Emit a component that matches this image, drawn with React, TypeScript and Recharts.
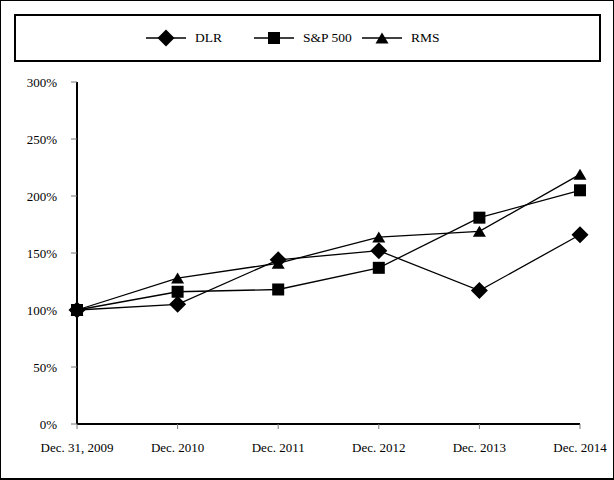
import { LineChart, Line, XAxis, YAxis } from 'recharts'

const years = ['Dec. 31, 2009', 'Dec. 2010', 'Dec. 2011', 'Dec. 2012', 'Dec. 2013', 'Dec. 2014']
const dlr = [100, 105, 144, 152, 117, 166]
const sp500 = [100, 116, 118, 137, 181, 205]
const rms = [100, 128, 141, 164, 169, 219]
const yTicks = [0, 50, 100, 150, 200, 250, 300]

const chartData = years.map((year, i) => ({ year, dlr: dlr[i], sp500: sp500[i], rms: rms[i] }))

const FONT = '"Liberation Serif", "Times New Roman", serif'

function DiamondDot(props: any) {
    const { cx, cy, index } = props
    if (cx == null || cy == null) return null
    const r = 8.5
    return <path key={index} d={`M${cx},${cy - r}L${cx + r},${cy}L${cx},${cy + r}L${cx - r},${cy}Z`} fill="#000" />
}

function SquareDot(props: any) {
    const { cx, cy, index } = props
    if (cx == null || cy == null) return null
    return <rect key={index} x={cx - 6} y={cy - 6} width={12} height={12} fill="#000" />
}

function TriangleDot(props: any) {
    const { cx, cy, index } = props
    if (cx == null || cy == null) return null
    return <path key={index} d={`M${cx},${cy - 5.5}L${cx + 6.5},${cy + 5.5}L${cx - 6.5},${cy + 5.5}Z`} fill="#000" />
}

function LegendIcon({ shape }: { shape: 'diamond' | 'square' | 'triangle' }) {
    return (
        <svg width={40} height={20} style={{ display: 'block' }}>
            <line x1={0} y1={10} x2={40} y2={10} stroke="#000" strokeWidth={1.5} />
            {shape === 'diamond' && <path d="M20,1.5L28.5,10L20,18.5L11.5,10Z" fill="#000" />}
            {shape === 'square' && <rect x={14} y={4} width={12} height={12} fill="#000" />}
            {shape === 'triangle' && <path d="M20,4.5L26.5,15.5L13.5,15.5Z" fill="#000" />}
        </svg>
    )
}

const legendItems: { label: string; shape: 'diamond' | 'square' | 'triangle' }[] = [
    { label: 'DLR', shape: 'diamond' },
    { label: 'S&P 500', shape: 'square' },
    { label: 'RMS', shape: 'triangle' },
]

export default function App() {
    return (
        <div
            style={{
                position: 'absolute',
                left: 0,
                top: 0,
                width: 614,
                height: 480,
                boxSizing: 'border-box',
                border: '1px solid #000',
                borderBottomWidth: 2,
                background: '#fff',
                fontFamily: FONT,
            }}
        >
            <div
                style={{
                    position: 'absolute',
                    left: 13,
                    top: 13,
                    width: 587,
                    height: 48,
                    boxSizing: 'border-box',
                    border: '2px solid #000',
                }}
            >
                <div style={{ position: 'absolute', left: 130, top: 0, height: 44, display: 'flex', alignItems: 'center' }}>
                    {legendItems.map((item) => (
                        <div key={item.label} style={{ width: 108, display: 'flex', alignItems: 'center' }}>
                            <LegendIcon shape={item.shape} />
                            <span style={{ marginLeft: 9, fontSize: 13.5, color: '#000' }}>{item.label}</span>
                        </div>
                    ))}
                </div>
            </div>
            <div style={{ position: 'absolute', left: -1, top: -1 }}>
                <LineChart width={614} height={480} data={chartData} margin={{ top: 82, right: 34, bottom: 26, left: 17 }}>
                    <XAxis
                        dataKey="year"
                        height={30}
                        tick={{ fill: '#000', fontSize: 13, fontFamily: FONT }}
                        axisLine={{ stroke: '#000', strokeWidth: 2 }}
                        tickLine={{ stroke: '#777', strokeWidth: 1 }}
                        tickSize={5}
                        tickMargin={14}
                        interval={0}
                    />
                    <YAxis
                        width={60}
                        domain={[0, 300]}
                        ticks={yTicks}
                        tickFormatter={(v) => `${v}%`}
                        tick={{ fill: '#000', fontSize: 13, fontFamily: FONT }}
                        axisLine={{ stroke: '#000', strokeWidth: 2 }}
                        tickLine={{ stroke: '#777', strokeWidth: 1 }}
                        tickSize={6}
                        tickMargin={14}
                        interval={0}
                    />
                    <Line dataKey="dlr" stroke="#000" strokeWidth={1.3} dot={DiamondDot} activeDot={false} isAnimationActive={false} />
                    <Line dataKey="sp500" stroke="#000" strokeWidth={1.3} dot={SquareDot} activeDot={false} isAnimationActive={false} />
                    <Line dataKey="rms" stroke="#000" strokeWidth={1.3} dot={TriangleDot} activeDot={false} isAnimationActive={false} />
                </LineChart>
            </div>
        </div>
    )
}
